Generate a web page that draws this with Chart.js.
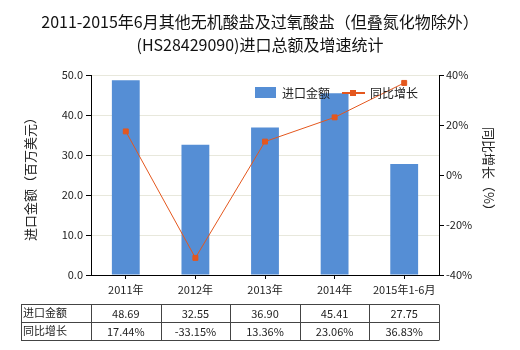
<!DOCTYPE html>
<html><head><meta charset="utf-8">
<script src="https://cdn.jsdelivr.net/npm/chart.js@4.4.0/dist/chart.umd.min.js"></script>
<style>html,body{margin:0;padding:0;background:#fff}#c{display:block}</style>
</head><body>
<canvas id="c" width="520" height="350"></canvas>
<script>
const categories = ['2011年','2012年','2013年','2014年','2015年1-6月'];
const importValues = [48.69, 32.55, 36.90, 45.41, 27.75];
const growthValues = [17.44, -33.15, 13.36, 23.06, 36.83];
const importLabels = ['48.69','32.55','36.90','45.41','27.75'];
const growthLabels = ['17.44%','-33.15%','13.36%','23.06%','36.83%'];
const titleLines = ['2011-2015年6月其他无机酸盐及过氧酸盐（但叠氮化物除外）','(HS28429090)进口总额及增速统计'];
const seriesNames = ['进口金额','同比增长'];
const leftTitle = '进口金额（百万美元）';
const rightTitle = '同比增长（%）';

const FONT = '"Noto Sans CJK SC","Noto Sans",sans-serif';
const BAR = '#558ED5';
const LINE = '#E4571E';

const deco = {
  id:'deco',
  afterDraw(chart){
    const ctx = chart.ctx, ca = chart.chartArea, xs = chart.scales.x;
    ctx.save();
    // title
    ctx.fillStyle = '#111';
    ctx.font = '16px ' + FONT;
    ctx.textAlign = 'center'; ctx.textBaseline = 'middle';
    ctx.fillText(titleLines[0], 260, 22);
    ctx.fillText(titleLines[1], 260, 45);
    // axis titles
    ctx.font = '13px ' + FONT;
    ctx.fillStyle = '#222';
    ctx.save(); ctx.translate(30, 176); ctx.rotate(-Math.PI/2); ctx.fillText(leftTitle, 0, 0); ctx.restore();
    ctx.save(); ctx.translate(489, 172); ctx.rotate(Math.PI/2); ctx.fillText(rightTitle, 0, 0); ctx.restore();
    // legend
    ctx.fillStyle = BAR; ctx.fillRect(255, 87, 21, 11);
    ctx.fillStyle = '#222'; ctx.textAlign = 'left'; ctx.font = '12px ' + FONT;
    ctx.fillText(seriesNames[0], 282, 93);
    ctx.strokeStyle = LINE; ctx.lineWidth = 2;
    ctx.beginPath(); ctx.moveTo(342, 93); ctx.lineTo(365, 93); ctx.stroke();
    ctx.fillStyle = LINE; ctx.fillRect(350, 90, 6, 6);
    ctx.fillStyle = '#222';
    ctx.fillText(seriesNames[1], 370, 93);
    // table
    const cw = (ca.right - ca.left) / categories.length;
    const xsB = [21];
    for (let i = 0; i <= categories.length; i++) xsB.push(xs.getPixelForValue(i) - cw/2);
    const ys = [304.5, 322.5, 340.5];
    ctx.strokeStyle = '#444'; ctx.lineWidth = 1;
    ctx.beginPath();
    ys.forEach(y => { ctx.moveTo(21, y); ctx.lineTo(xsB[xsB.length-1], y); });
    xsB.forEach(x => { const xx = Math.round(x) + 0.5; ctx.moveTo(xx, ys[0]); ctx.lineTo(xx, ys[2]); });
    ctx.stroke();
    ctx.font = '11px ' + FONT; ctx.fillStyle = '#222';
    ctx.textAlign = 'left';
    ctx.fillText(seriesNames[0], 23, 313);
    ctx.fillText(seriesNames[1], 23, 331);
    ctx.textAlign = 'center';
    for (let i = 0; i < categories.length; i++) {
      const cx = xs.getPixelForValue(i);
      ctx.fillText(importLabels[i], cx, 314);
      ctx.fillText(growthLabels[i], cx, 332);
    }
    ctx.restore();
  }
};

new Chart(document.getElementById('c'), {
  data: {
    labels: categories,
    datasets: [
      { type:'line', label:seriesNames[1], data:growthValues, yAxisID:'y1', order:0,
        borderColor:LINE, backgroundColor:LINE, borderWidth:1, pointStyle:'rect',
        pointRadius:3.5, pointHoverRadius:3.5, tension:0, fill:false },
      { type:'bar', label:seriesNames[0], data:importValues, yAxisID:'y', order:1,
        backgroundColor:BAR, barPercentage:0.4, categoryPercentage:1 }
    ]
  },
  options: {
    responsive:false, animation:false, devicePixelRatio:1,
    layout:{ padding:{ top:75, left:0, right:0, bottom:0 } },
    plugins:{ legend:{display:false}, tooltip:{enabled:false}, title:{display:false} },
    scales:{
      x:{ type:'category', offset:true,
        grid:{ offset:false, drawOnChartArea:false, drawTicks:true, tickLength:4, tickColor:'#000' },
        border:{ color:'#000', width:1 },
        ticks:{ color:'#222', font:{ size:11, family:FONT }, padding:4, maxRotation:0, autoSkip:false },
        afterFit(s){ s.height = 75; } },
      y:{ position:'left', min:0, max:50,
        ticks:{ stepSize:10, color:'#222', font:{ size:11, family:FONT }, padding:3, callback:v=>v.toFixed(1) },
        grid:{ color:'#e8e8dc', tickColor:'#000', tickLength:5 },
        border:{ color:'#000', width:1 },
        afterFit(s){ s.width = 91; } },
      y1:{ position:'right', min:-40, max:40,
        ticks:{ stepSize:20, color:'#222', font:{ size:11, family:FONT }, padding:2, callback:v=>v+'%' },
        grid:{ drawOnChartArea:false, tickColor:'#000', tickLength:5 },
        border:{ color:'#000', width:1 },
        afterFit(s){ s.width = 81; } }
    }
  },
  plugins:[deco]
});
</script>
</body></html>
